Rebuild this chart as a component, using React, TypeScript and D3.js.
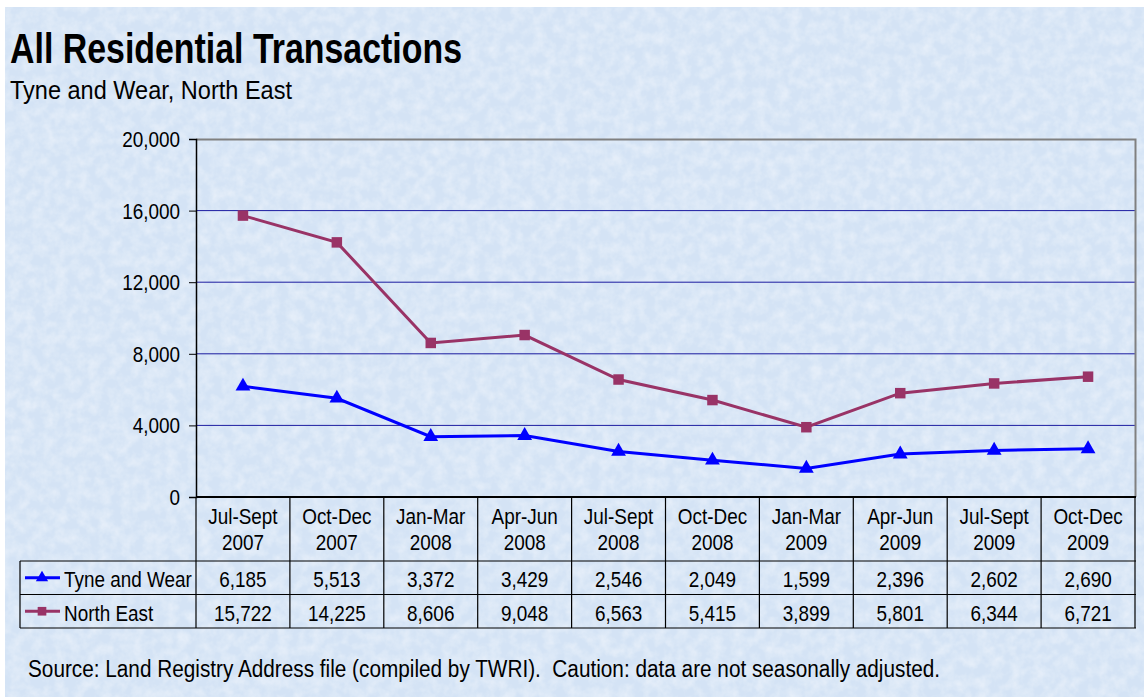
import { FC, useEffect, useRef } from 'react';
import * as d3 from 'd3';

const categories = [
  ['Jul-Sept', '2007'], ['Oct-Dec', '2007'], ['Jan-Mar', '2008'], ['Apr-Jun', '2008'],
  ['Jul-Sept', '2008'], ['Oct-Dec', '2008'], ['Jan-Mar', '2009'], ['Apr-Jun', '2009'],
  ['Jul-Sept', '2009'], ['Oct-Dec', '2009'],
];
const tyneWear = [6185, 5513, 3372, 3429, 2546, 2049, 1599, 2396, 2602, 2690];
const northEast = [15722, 14225, 8606, 9048, 6563, 5415, 3899, 5801, 6344, 6721];
const yTicks = [0, 4000, 8000, 12000, 16000, 20000];

const series = [
  { name: 'Tyne and Wear', values: tyneWear, color: '#0000ff', symbol: d3.symbolTriangle },
  { name: 'North East', values: northEast, color: '#993366', symbol: d3.symbolSquare },
];

const W = 1144;
const H = 697;
const FONT = '"Liberation Sans", Arial, sans-serif';
const NARROW = 0.86; // fake Arial Narrow by squeezing

const App: FC = () => {
  const svgRef = useRef<SVGSVGElement | null>(null);

  useEffect(() => {
    if (!svgRef.current) return;
    const svg = d3.select(svgRef.current);
    svg.selectAll('*').remove();

    const margin = { left: 196, right: 1135, top: 139, bottom: 497 };
    const legendLeft = 20;
    const headerBottom = 561;
    const rowH = 33.5;

    // narrow text helper: draws text squeezed horizontally around its anchor
    const narrowText = (g: any, tx: number, ty: number, s: string, anchor = 'start', size = 22) =>
      g.append('text')
        .attr('transform', `translate(${tx},${ty}) scale(${NARROW},1)`)
        .attr('text-anchor', anchor)
        .attr('font-family', FONT).attr('font-size', size).attr('fill', '#000')
        .text(s);

    // background with a soft mottled texture
    const defs = svg.append('defs');
    const f = defs.append('filter').attr('id', 'mottle').attr('x', 0).attr('y', 0)
      .attr('width', '100%').attr('height', '100%');
    f.append('feTurbulence').attr('type', 'fractalNoise').attr('baseFrequency', 0.09)
      .attr('numOctaves', 3).attr('seed', 7).attr('result', 'n');
    f.append('feColorMatrix').attr('in', 'n').attr('type', 'matrix')
      .attr('values', '0 0 0 0 1  0 0 0 0 1  0 0 0 0 1  0 0 0 -1.8 1.2');
    svg.append('rect').attr('width', W).attr('height', H).attr('fill', '#ffffff');
    svg.append('rect').attr('x', 5).attr('y', 7).attr('width', W - 5).attr('height', H - 7).attr('fill', '#d4e3f5');
    svg.append('rect').attr('x', 5).attr('y', 7).attr('width', W - 5).attr('height', H - 7)
      .attr('filter', 'url(#mottle)').attr('opacity', 0.4);

    const x = d3.scaleBand<number>()
      .domain(d3.range(categories.length))
      .range([margin.left, margin.right]);

    const y = d3.scaleLinear()
      .domain([0, 20000])
      .range([margin.bottom, margin.top]);

    // titles
    svg.append('text').attr('x', 10).attr('y', 63)
      .attr('font-family', FONT).attr('font-size', 42).attr('font-weight', 'bold')
      .attr('textLength', 452).attr('lengthAdjust', 'spacingAndGlyphs')
      .text('All Residential Transactions');
    svg.append('text').attr('x', 10).attr('y', 99)
      .attr('font-family', FONT).attr('font-size', 26)
      .attr('textLength', 282).attr('lengthAdjust', 'spacingAndGlyphs')
      .text('Tyne and Wear, North East');

    // gridlines
    svg.append('g').selectAll('line')
      .data(yTicks.filter(d => d > 0 && d < 20000))
      .enter().append('line')
      .attr('x1', margin.left).attr('x2', margin.right)
      .attr('y1', d => y(d)).attr('y2', d => y(d))
      .attr('stroke', '#1c1ca0').attr('stroke-width', 1);

    // plot border top & right
    svg.append('path')
      .attr('d', `M${margin.left},${y(20000) + 0.5}H${margin.right + 0.5}V${margin.bottom}`)
      .attr('fill', 'none').attr('stroke', '#808080').attr('stroke-width', 2);

    // y axis
    const yAxis = svg.append('g')
      .attr('transform', `translate(${margin.left},0)`)
      .call(d3.axisLeft(y).tickValues(yTicks).tickSize(7).tickFormat(() => ''));
    yAxis.select('.domain').attr('stroke', '#000').attr('stroke-width', 1.5);
    yAxis.selectAll('.tick line').attr('stroke', '#000');
    const yl = svg.append('g');
    yTicks.forEach(t => narrowText(yl, 180, y(t) + 8, d3.format(',')(t), 'end'));

    // table lines
    const tbl = svg.append('g').attr('stroke', '#000').attr('stroke-width', 1.2);
    tbl.append('line').attr('x1', margin.left).attr('x2', margin.right + 1)
      .attr('y1', margin.bottom).attr('y2', margin.bottom).attr('stroke-width', 1.8);
    [headerBottom, headerBottom + rowH, headerBottom + 2 * rowH].forEach(yy => {
      tbl.append('line').attr('x1', legendLeft).attr('x2', margin.right + 1)
        .attr('y1', yy).attr('y2', yy);
    });
    d3.range(categories.length + 1).forEach(i => {
      const xx = i < categories.length ? x(i)! : margin.right;
      tbl.append('line').attr('x1', xx).attr('x2', xx)
        .attr('y1', margin.bottom).attr('y2', headerBottom + 2 * rowH);
    });
    tbl.append('line').attr('x1', legendLeft).attr('x2', legendLeft)
      .attr('y1', headerBottom).attr('y2', headerBottom + 2 * rowH);

    // header category labels
    const hdr = svg.append('g');
    categories.forEach((c, i) => {
      const cx = x(i)! + x.bandwidth() / 2;
      narrowText(hdr, cx, 524, c[0], 'middle');
      narrowText(hdr, cx, 550, c[1], 'middle');
    });

    const line = d3.line<number>()
      .x((_, i) => x(i)! + x.bandwidth() / 2)
      .y(d => y(d));

    series.forEach((s, si) => {
      svg.append('path').datum(s.values)
        .attr('fill', 'none').attr('stroke', s.color).attr('stroke-width', 3)
        .attr('d', line);
      svg.append('g').selectAll('path')
        .data(s.values).enter().append('path')
        .attr('transform', (d, i) => `translate(${x(i)! + x.bandwidth() / 2},${y(d)})`)
        .attr('d', d3.symbol().type(s.symbol).size(si === 0 ? 95 : 110)())
        .attr('fill', s.color);

      const rowY = headerBottom + si * rowH;
      // legend key
      svg.append('line').attr('x1', 25).attr('x2', 60)
        .attr('y1', rowY + rowH / 2).attr('y2', rowY + rowH / 2)
        .attr('stroke', s.color).attr('stroke-width', 3);
      svg.append('path')
        .attr('transform', `translate(42,${rowY + rowH / 2})`)
        .attr('d', d3.symbol().type(s.symbol).size(si === 0 ? 65 : 75)())
        .attr('fill', s.color);
      const rowG = svg.append('g');
      narrowText(rowG, 64, rowY + 26, s.name);
      s.values.forEach((v, i) => {
        narrowText(rowG, x(i)! + x.bandwidth() / 2, rowY + 26, d3.format(',')(v), 'middle');
      });
    });

    svg.append('text').attr('x', 28).attr('y', 677)
      .attr('font-family', FONT).attr('font-size', 23)
      .attr('textLength', 912).attr('lengthAdjust', 'spacingAndGlyphs')
      .style('white-space', 'pre')
      .text('Source: Land Registry Address file (compiled by TWRI).  Caution: data are not seasonally adjusted.');
  }, []);

  return (
    <svg ref={svgRef} width={W} height={H}
      style={{ position: 'absolute', left: 0, top: 0 }} />
  );
};

export default App;
